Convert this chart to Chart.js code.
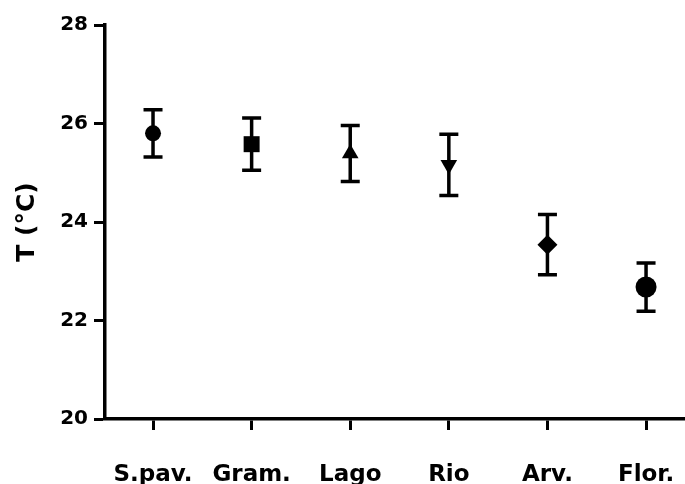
<!DOCTYPE html>
<html>
	<head>
		<meta charset="UTF-8" />
		<title>T (°C)</title>
		<script src="https://cdn.jsdelivr.net/npm/chart.js@4/dist/chart.umd.min.js"></script>
		<style>
			html, body { margin: 0; padding: 0; background: #fff; }
			.chart { width: 685px; height: 484px; }
		</style>
	</head>
	<body>
		<div class="chart"><canvas id="tChart" width="685" height="484"></canvas></div>
		<script>
			// sites and mean temperature with error
			var sites = ['S.pav.', 'Gram.', 'Lago', 'Rio', 'Arv.', 'Flor.'];
			var means = [25.80, 25.58, 25.39, 25.16, 23.54, 22.68];
			var errs = [0.48, 0.53, 0.57, 0.62, 0.61, 0.49];
			var yTicks = [20, 22, 24, 26, 28];

			var markers = ['circle', 'rect', 'triangle', 'triangle', 'rectRot', 'circle'];
			var rotations = [0, 0, 0, 180, 0, 0];
			var radii = [8, 11.3, 9.6, 9.6, 10, 10.5];

			var points = sites.map(function (s, i) { return { x: i, y: means[i] }; });

			// error bars drawn through the scales
			var errorBars = {
				id: 'errorBars',
				beforeDatasetsDraw: function (chart) {
					var ctx = chart.ctx;
					var xs = chart.scales.x, ys = chart.scales.y;
					ctx.save();
					ctx.strokeStyle = '#000';
					ctx.lineWidth = 3.5;
					for (var i = 0; i < means.length; i++) {
						var x = xs.getPixelForValue(i);
						var top = ys.getPixelForValue(means[i] + errs[i]);
						var bot = ys.getPixelForValue(means[i] - errs[i]);
						ctx.beginPath();
						ctx.moveTo(x, top); ctx.lineTo(x, bot);
						ctx.moveTo(x - 9.5, top); ctx.lineTo(x + 9.5, top);
						ctx.moveTo(x - 9.5, bot); ctx.lineTo(x + 9.5, bot);
						ctx.stroke();
					}
					ctx.restore();
				}
			};

			var font = 'DejaVu Sans';

			new Chart(document.getElementById('tChart'), {
				type: 'scatter',
				data: {
					datasets: [{
						data: points,
						pointStyle: markers,
						rotation: rotations,
						pointRadius: radii,
						pointHoverRadius: radii,
						backgroundColor: '#000',
						borderColor: '#000',
						borderWidth: 0
					}]
				},
				options: {
					responsive: false,
					animation: false,
					layout: { autoPadding: false, padding: { top: 25, right: 0, bottom: 0, left: 0 } },
					plugins: { legend: { display: false }, tooltip: { enabled: false } },
					scales: {
						x: {
							type: 'linear',
							min: -0.487,
							max: 5.395,
							afterBuildTicks: function (scale) {
								scale.ticks = sites.map(function (s, i) { return { value: i }; });
							},
							afterFit: function (scale) {
								scale.height = 65;
								scale.paddingLeft = 0;
								scale.paddingRight = 0;
							},
							border: { display: true, color: '#000', width: 3.5 },
							grid: { drawOnChartArea: false, drawTicks: true, tickLength: 11, tickWidth: 3, color: '#000' },
							ticks: {
								color: '#000',
								padding: 31,
								maxRotation: 0,
								font: { family: font, weight: 'bold', size: 23 },
								callback: function (v) { return sites[v]; }
							}
						},
						y: {
							min: 20,
							max: 28,
							afterBuildTicks: function (scale) {
								scale.ticks = yTicks.map(function (v) { return { value: v }; });
							},
							afterFit: function (scale) {
								scale.width = 105;
								scale.paddingTop = 0;
								scale.paddingBottom = 0;
							},
							border: { display: true, color: '#000', width: 3.5 },
							grid: { drawOnChartArea: false, drawTicks: true, tickLength: 11, tickWidth: 3, color: '#000' },
							ticks: {
								color: '#000',
								padding: 6,
								font: { family: font, weight: 'bold', size: 20 }
							},
							title: {
								display: true,
								text: 'T (°C)',
								color: '#000',
								padding: { top: 12, bottom: 0 },
								font: { family: font, weight: 'bold', size: 25 }
							}
						}
					}
				},
				plugins: [errorBars]
			});
		</script>
	</body>
</html>
